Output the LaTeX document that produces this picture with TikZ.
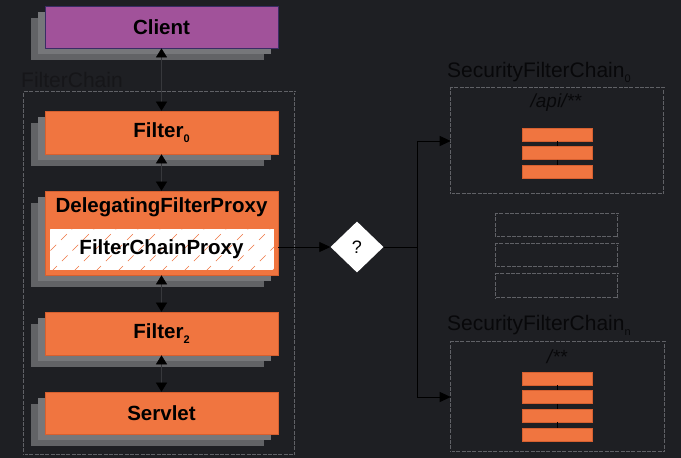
\documentclass[tikz,border=0pt]{standalone}
\usepackage{fontspec}
\setmainfont{Liberation Sans}
\usetikzlibrary{shapes.geometric,arrows.meta,shadows,calc}
\definecolor{bg}{RGB}{30,31,35}
\definecolor{orng}{RGB}{240,117,64}
\definecolor{orngdk}{RGB}{214,96,48}
\definecolor{purp}{RGB}{161,82,154}
\definecolor{purpdk}{RGB}{58,44,100}
\definecolor{shA}{RGB}{118,119,122}
\definecolor{shB}{RGB}{98,99,102}
\definecolor{dashgray}{RGB}{96,97,102}
\definecolor{lbldark}{RGB}{8,8,10}
\definecolor{lblmid}{RGB}{22,22,25}
\definecolor{midline}{RGB}{55,56,60}
\newcommand{\lowsub}[1]{\raisebox{-5pt}{\fontsize{11}{12}\selectfont #1}}
\tikzset{
  stackshadow/.style={
    general shadow={shadow xshift=-14pt,shadow yshift=-12pt,fill=shB,draw=none},
    general shadow={shadow xshift=-7pt,shadow yshift=-6pt,fill=shA,draw=none}},
  boxtext/.style={font=\fontsize{20.5}{24}\selectfont\bfseries,text=black},
  filterbox/.style={rectangle,stackshadow,fill=orng,draw=orngdk,line width=0.6pt,
    minimum width=233pt,minimum height=43pt,inner sep=0pt,boxtext},
  clientbox/.style={rectangle,stackshadow,fill=purp,draw=purpdk,line width=0.8pt,
    minimum width=233pt,minimum height=42pt,inner sep=0pt,boxtext},
  chainbox/.style={rectangle,draw=dashgray,line width=0.6pt,double=bg,double distance=0.9pt,
    dash pattern=on 4pt off 1.3pt,inner sep=0pt},
  bar/.style={rectangle,fill=orng,draw=orngdk,line width=0.5pt,minimum width=70pt,minimum height=13pt,inner sep=0pt},
  biarrow/.style={draw=black,line width=0.55pt,double=midline,double distance=0.8pt,
    {Triangle[width=11pt,length=9pt]}-{Triangle[width=11pt,length=9pt]}},
  onearrow/.style={draw=black,line width=0.8pt,-{Triangle[width=10pt,length=11pt]}},
  plainline/.style={draw=black,line width=0.8pt},
  barlink/.style={draw=black,line width=0.8pt},
  grouplabel/.style={font=\fontsize{21}{24}\selectfont,text=lbldark,anchor=base west,inner sep=0pt},
}
\begin{document}
\begin{tikzpicture}[x=1pt,y=-1pt]
\fill[bg] (0,0) rectangle (681,458);
\useasboundingbox (0,0) rectangle (681,458);

% FilterChain group
\node[chainbox,minimum width=271pt,minimum height=363pt] (fc) at (159.5,273.5) {};
\node[grouplabel,text=lblmid] (fclbl) at (21,87) {FilterChain};

% boxes
\node[clientbox] (client) at (161.5,27) {Client};
\node[filterbox] (f0) at (161.5,132.5) {Filter\lowsub{0}};
\node[filterbox,minimum height=84pt] (dfp) at (161.5,233) {};
\node[boxtext,anchor=base,inner sep=0pt] (dfplbl) at (161.5,212) {DelegatingFilterProxy};
\node[rectangle,fill=white,draw=orng,line width=0.6pt,minimum width=225pt,minimum height=42pt,inner sep=0pt] (fcp) at (161.5,249) {};
\begin{scope}
  \clip (fcp.south west) rectangle (fcp.north east);
  \foreach \i in {0,...,12} {
    \draw[orng,line width=0.7pt,dash pattern=on 8pt off 7pt,dash phase=2pt]
      ($(fcp.south west)+(\i*22-40,0)$) -- ++(45,-45);
  }
\end{scope}
\node[boxtext,inner sep=0pt] (fcplbl) at (fcp.center) {FilterChainProxy};
\node[filterbox] (f2) at (161.5,333.5) {Filter\lowsub{2}};
\node[filterbox,minimum height=42pt] (servlet) at (161.5,413) {Servlet};

% vertical connectors
\draw[biarrow] (client.south) -- (f0.north);
\draw[biarrow] (f0.south) -- (dfp.north);
\draw[biarrow] (dfp.south) -- (f2.north);
\draw[biarrow] (f2.south) -- (servlet.north);

% decision
\node[diamond,fill=white,draw=none,minimum width=53pt,minimum height=51pt,inner sep=0pt,
  font=\fontsize{18}{20}\selectfont,text=black] (q) at (357,247) {?};
\coordinate (start) at (dfp.east |- q.west);
\draw[onearrow] (start) -- (q.west);
\coordinate (br) at (417,247);
\draw[plainline] (q.east) -- (br);

% SecurityFilterChain0
\node[chainbox,minimum width=213pt,minimum height=106pt] (sfc0) at (557.5,141) {};
\node[grouplabel] (sfc0lbl) at (447,77) {SecurityFilterChain\lowsub{0}};
\node[font=\fontsize{19}{22}\selectfont\itshape,text=lbldark,inner sep=0pt] (api) at (556,103) {/api/**};
\node[bar] (a1) at (557,134.5) {};
\node[bar] (a2) at (557,153) {};
\node[bar] (a3) at (557,171.5) {};
\draw[barlink] (a1.south) -- (a2.north);
\draw[barlink] (a2.south) -- (a3.north);

% middle placeholders
\node[chainbox,minimum width=122pt,minimum height=23pt] (m1) at (557,225.5) {};
\node[chainbox,minimum width=122pt,minimum height=23pt] (m2) at (557,255.5) {};
\node[chainbox,minimum width=122pt,minimum height=24pt] (m3) at (557,286) {};

% SecurityFilterChainn
\node[chainbox,minimum width=214pt,minimum height=110pt] (sfcn) at (558,397) {};
\node[grouplabel] (sfcnlbl) at (447,330) {SecurityFilterChain\lowsub{n}};
\node[font=\fontsize{19}{22}\selectfont\itshape,text=lbldark,inner sep=0pt] (all) at (557,357) {/**};
\node[bar] (b1) at (557,378.5) {};
\node[bar] (b2) at (557,397) {};
\node[bar] (b3) at (557,415.5) {};
\node[bar] (b4) at (557,434.5) {};
\draw[barlink] (b1.south) -- (b2.north);
\draw[barlink] (b2.south) -- (b3.north);
\draw[barlink] (b3.south) -- (b4.north);

% branches
\draw[onearrow] (br) |- (sfc0.west);
\draw[onearrow] (br) |- (sfcn.west);
\end{tikzpicture}
\end{document}
